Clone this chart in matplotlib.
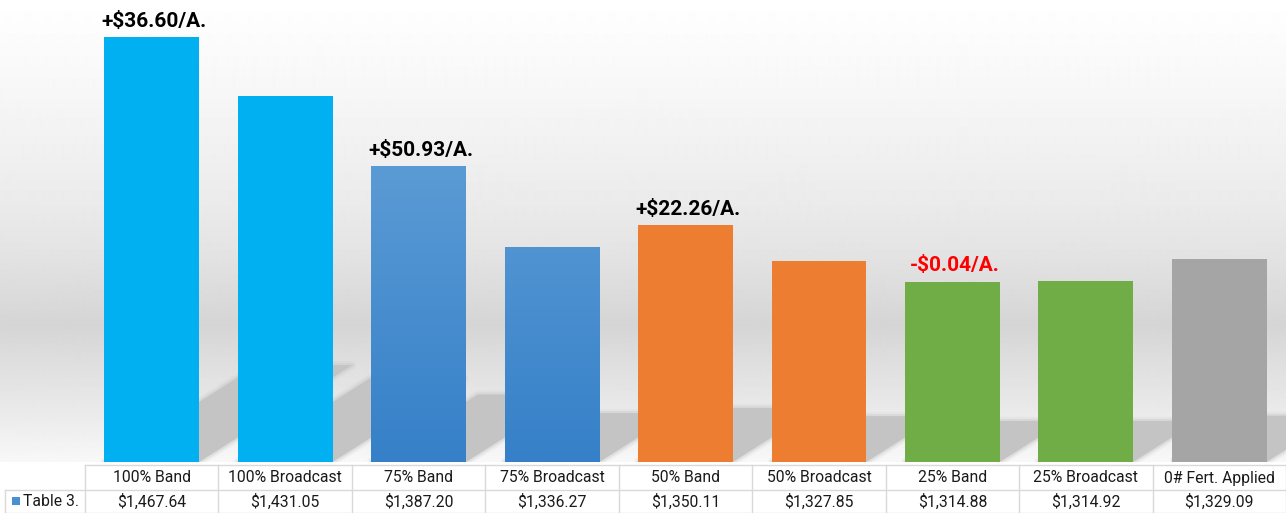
import numpy as np
import matplotlib
matplotlib.use("Agg")
import matplotlib.pyplot as plt
from matplotlib.patches import Rectangle, Polygon
from matplotlib.transforms import Affine2D

plt.rcParams['font.family'] = ['Roboto', 'DejaVu Sans']

# ---- data ----
categories = ["100% Band", "100% Broadcast", "75% Band", "75% Broadcast",
              "50% Band", "50% Broadcast", "25% Band", "25% Broadcast",
              "0# Fert. Applied"]
values = [1467.64, 1431.05, 1387.20, 1336.27, 1350.11, 1327.85,
          1314.88, 1314.92, 1329.09]
value_labels = ["$1,467.64", "$1,431.05", "$1,387.20", "$1,336.27", "$1,350.11",
                "$1,327.85", "$1,314.88", "$1,314.92", "$1,329.09"]
series_name = "Table 3."
gain_index = [0, 2, 4, 6]
gain_text = ["+$36.60/A.", "+$50.93/A.", "+$22.26/A.", "-$0.04/A."]
gain_color = ["#000000", "#000000", "#000000", "#ff0000"]

bar_colors = ["#00b0f0", "#00b0f0", None, None, "#ed7d31", "#ed7d31",
              "#70ad47", "#70ad47", "#a5a5a5"]
y_min, y_max = 1202.0, 1491.0

W, H = 1286, 513
fig = plt.figure(figsize=(W / 100, H / 100), dpi=100)
fig.patch.set_facecolor("white")

# ---- wall gradient behind plot ----
bg = fig.add_axes([0, 51 / H, 1, 462 / H])
bg.set_axis_off()
stops_y = np.array([0, 100, 200, 250, 325, 360, 420, 462])
stops_v = np.array([255, 246, 235, 228, 213, 222, 236, 248]) / 255.0
yy = np.arange(462)
col = np.interp(yy, stops_y, stops_v)
bg.imshow(np.repeat(col[:, None], 2, axis=1), cmap="gray", vmin=0, vmax=1,
          aspect="auto", extent=[0, 1, 0, 1], origin="upper", interpolation="bilinear")
bg.set_xlim(0, 1)
bg.set_ylim(0, 1)

# ---- main plot ----
x0_px, x1_px = 85.0, 1286.0
ax = fig.add_axes([x0_px / W, 51 / H, (x1_px - x0_px) / W, 462 / H])
ax.patch.set_alpha(0)
ax.set_xlim(-0.5, len(categories) - 0.5)
ax.set_ylim(y_min, y_max)
ax.set_axis_off()

bw = 0.71
xs = np.arange(len(categories))

# floor shadows: each bar sheared up and to the right
yb = ax.transData.transform((0, y_min))[1]
sx, sy = 0.36, 0.228
shear = Affine2D(np.array([[1, sx, -sx * yb], [0, sy, yb * (1 - sy)], [0, 0, 1]]))
for x, v in zip(xs, values):
    poly = [(x - bw / 2, y_min), (x + bw / 2, y_min), (x + bw / 2, v), (x - bw / 2, v)]
    for lw, a in [(6, 0.15), (3, 0.35)]:
        ax.add_patch(Polygon(poly, closed=True, facecolor="none", edgecolor="#c4c4c4",
                             linewidth=lw, alpha=a, transform=ax.transData + shear,
                             zorder=1, joinstyle="round"))
    ax.add_patch(Polygon(poly, closed=True, facecolor="#c4c4c4", edgecolor="none",
                         transform=ax.transData + shear, zorder=1.1))

# bars
grad = np.linspace(0, 1, 256)[:, None]
c_top = np.array([0x5b, 0x9b, 0xd5]) / 255
c_bot = np.array([0x35, 0x80, 0xc8]) / 255
grad_img = c_top[None, None, :] * (1 - grad[..., None]) + c_bot[None, None, :] * grad[..., None]
for i, (x, v) in enumerate(zip(xs, values)):
    if bar_colors[i] is None:
        rect = Rectangle((x - bw / 2, y_min), bw, v - y_min, facecolor="none",
                         edgecolor="none", zorder=2)
        ax.add_patch(rect)
        im = ax.imshow(grad_img, extent=[x - bw / 2, x + bw / 2, y_min, values[2]],
                       origin="upper", aspect="auto", zorder=2, interpolation="bilinear")
        im.set_clip_path(rect)
    else:
        ax.add_patch(Rectangle((x - bw / 2, y_min), bw, v - y_min,
                               facecolor=bar_colors[i], edgecolor="none", zorder=2))
ax.set_xlim(-0.5, len(categories) - 0.5)
ax.set_ylim(y_min, y_max)

# gain annotations
for idx, txt, c in zip(gain_index, gain_text, gain_color):
    ax.annotate(txt, (xs[idx], values[idx]), xytext=(1.5, 4.5), textcoords="offset points",
                ha="center", va="bottom", fontsize=15, fontweight="bold", color=c,
                zorder=5, annotation_clip=False)

# ---- data table ----
tb = fig.add_axes([0, 0, 1, 51 / H])
tb.set_xlim(0, W)
tb.set_ylim(51, 0)
tb.set_axis_off()
lc = "#d9d9d9"
colw = (x1_px - x0_px) / len(categories)
y_top, y_mid, y_bot = 465 - 462, 490 - 462, 512.5 - 462
tb.plot([x0_px, W], [y_top, y_top], color=lc, lw=1)
tb.plot([5, W], [y_mid, y_mid], color=lc, lw=1)
tb.plot([5, W], [y_bot, y_bot], color=lc, lw=1)
tb.plot([5, 5], [y_mid, y_bot], color=lc, lw=1)
for k in range(len(categories) + 1):
    xk = x0_px + k * colw
    tb.plot([xk, xk], [y_top, y_bot], color=lc, lw=1)
for k, (cat, lab) in enumerate(zip(categories, value_labels)):
    cx = x0_px + (k + 0.5) * colw
    tb.text(cx, (y_top + y_mid) / 2 + 0.5, cat, ha="center", va="center",
            fontsize=11.3, color="#1a1a1a")
    tb.text(cx, (y_mid + y_bot) / 2 + 0.5, lab, ha="center", va="center",
            fontsize=11.3, color="#1a1a1a")
tb.add_patch(Rectangle((12, 35), 8, 8, facecolor="#4a8fd0", edgecolor="none"))
tb.text(23, (y_mid + y_bot) / 2 + 0.5, series_name, ha="left", va="center",
        fontsize=11.3, color="#1a1a1a")

fig.savefig("out.png", dpi=100)
